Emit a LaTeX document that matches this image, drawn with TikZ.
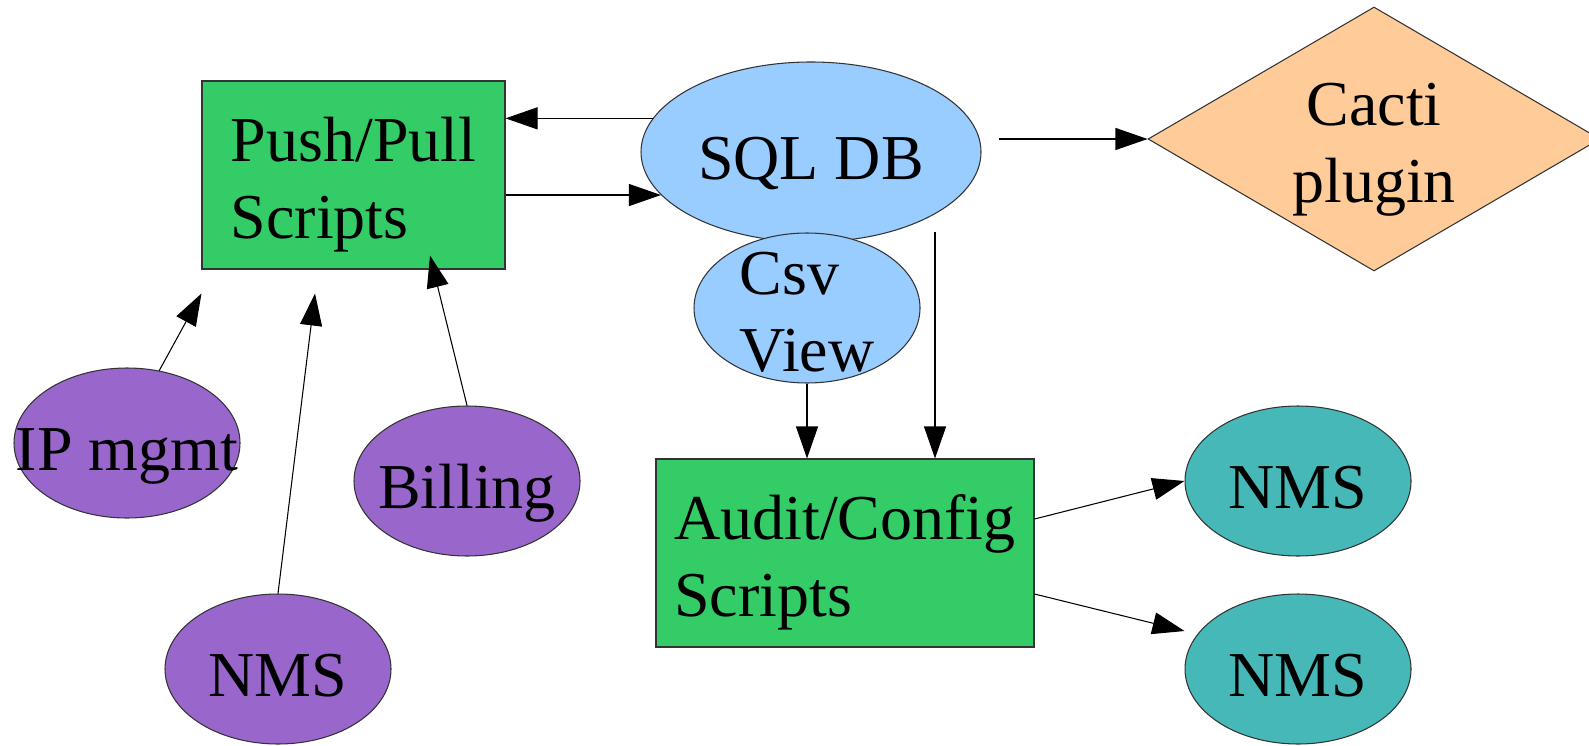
\documentclass[tikz,border=0pt]{standalone}
\usepackage{fontspec}
\setmainfont{Liberation Serif}
\usetikzlibrary{shapes.geometric,arrows.meta}
\definecolor{scgreen}{RGB}{51,204,102}
\definecolor{dbblue}{RGB}{153,204,255}
\definecolor{inpurple}{RGB}{153,102,204}
\definecolor{outteal}{RGB}{71,184,184}
\definecolor{cactiorg}{RGB}{255,204,153}
\tikzset{
  oneln/.style={text height=19pt,text depth=3.6pt},
  twoln/.style={text height=39.5pt,text depth=3.6pt},
  scbox/.style={draw=black!80,fill=scgreen,line width=0.3pt,inner sep=0pt,align=left,minimum height=1.88cm,twoln},
  blob/.style={ellipse,draw=black!80,line width=0.3pt,inner xsep=-0.4cm,inner ysep=-0.3cm,minimum width=2.26cm,minimum height=1.5cm,oneln},
  dbv/.style={blob,fill=dbblue},
  inv/.style={blob,fill=inpurple},
  outv/.style={blob,fill=outteal},
  plug/.style={diamond,draw=black!80,fill=cactiorg,line width=0.3pt,inner sep=0pt,aspect=1.7,minimum width=4.52cm,minimum height=2.64cm,align=center,twoln},
  ea/.style={-{Triangle[length=0.32cm,width=0.22cm]},line width=0.3pt},
}
\begin{document}
\begin{tikzpicture}[every node/.style={font=\fontsize{18.2}{21.8}\selectfont}]
\useasboundingbox (0,0) rectangle (15.89,-7.45);
\node[scbox,minimum width=3.03cm] (push) at (3.535,-1.75) {Push/Pull\\Scripts};
\node[dbv,minimum width=3.40cm,minimum height=1.80cm] (sql) at (8.11,-1.52) {SQL DB};
\node[dbv,align=left,twoln] (csv) at (8.07,-3.08) {Csv\\View};
\node[plug] (cacti) at (13.74,-1.39) {Cacti\\plugin};
\node[scbox,minimum width=3.78cm] (audit) at (8.45,-5.53) {Audit/Config\\Scripts};
\node[inv] (ipm) at (1.27,-4.43) {IP mgmt};
\node[inv] (nms1) at (2.78,-6.69) {NMS};
\node[inv] (bill) at (4.67,-4.81) {Billing};
\node[outv] (nms2) at (12.98,-4.81) {NMS};
\node[outv] (nms3) at (12.98,-6.69) {NMS};
\coordinate (tap) at ([xshift=0.9cm]audit.north);
\draw[ea] (sql.168) -- (sql.168 -| push.east);
\draw[ea] (push.east |- sql.196) -- (sql.196);
\draw[ea,shorten <=0.17cm] (sql.east |- cacti.west) -- (cacti.west);
\draw[ea] (tap |- csv.north) -- (tap);
\draw[ea] (csv.south) -- (csv.south |- audit.north);
\draw[ea] ([yshift=0.34cm]audit.east) -- (nms2.west);
\draw[ea] ([yshift=-0.41cm]audit.east) -- ([yshift=0.38cm]nms3.west);
\draw[ea] (ipm.66) -- ([yshift=-0.24cm]push.south west);
\draw[ea] (nms1.north) -- ([xshift=-0.385cm,yshift=-0.24cm]push.south);
\draw[ea] (bill.north) -- ([xshift=0.765cm,yshift=0.14cm]push.south);
\end{tikzpicture}
\end{document}
